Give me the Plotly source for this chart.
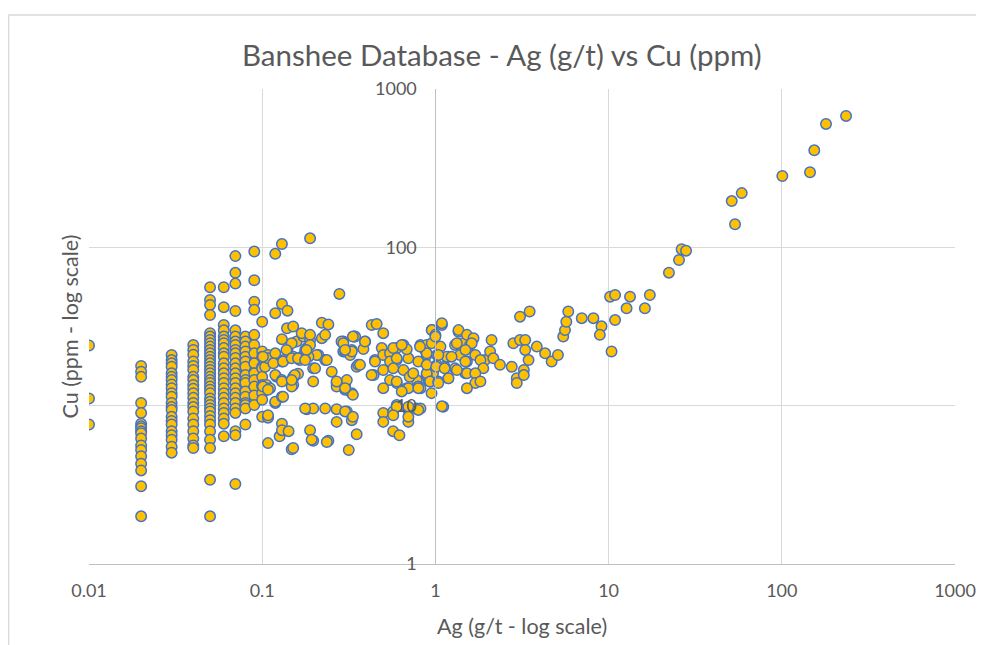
import plotly.graph_objects as go

# ---- Data (Ag g/t, Cu ppm) ----
# Discrete low-grade Ag assay levels and the Cu values at each level
ag_levels = [0.01, 0.02, 0.03, 0.04, 0.05, 0.06, 0.07, 0.08, 0.09, 0.1]
cu_at_001 = [24, 11.1, 7.6]
cu_at_002 = [17.8, 16.4, 15.2, 10.4, 9.0, 7.7, 7.4, 7.2, 6.9, 6.7, 6.2, 5.6, 5.25, 4.8, 4.3, 3.9, 3.1, 2.0]
cu_at_003 = [20.9, 19.4, 18.5, 17.6, 16.0, 15.2, 14.5, 13.6, 12.9, 12.0, 11.4, 10.4, 9.8, 9.4, 8.5, 8.0,
             7.6, 6.9, 6.5, 6.1, 5.5, 5.05]
cu_at_004 = [24.2, 22.5, 21.0, 19.0, 17.8, 16.8, 15.2, 14.5, 13.5, 12.8, 12.0, 11.2, 10.4, 9.8, 9.2, 8.3,
             7.6, 6.9, 6.2, 5.6, 5.4]
cu_at_005 = [56, 46.5, 43.3, 37.4, 28.7, 27.3, 26, 24.8, 23.6, 22.5, 21.4, 20.4, 19.4, 18.5, 17.6, 16.8,
             16.0, 15.2, 14.5, 13.9, 13.2, 12.6, 12.0, 11.1, 10.6, 10.1, 9.6, 9.2, 8.6, 8.1, 7.6, 6.9,
             6.1, 5.4, 3.4, 2.0]
cu_at_006 = [56, 41.9, 32.3, 29.9, 27.3, 26.0, 24.8, 23.1, 21.4, 20.4, 18.5, 17.2, 16.0, 14.9, 13.9, 12.9,
             12.0, 11.2, 10.4, 9.6, 9.0, 8.3, 7.7, 6.4]
cu_at_007 = [88, 69, 59, 39.6, 29.9, 27.3, 25.4, 24.2, 22.5, 21.4, 20.0, 18.5, 17.2, 16.0, 14.9, 13.9,
             12.9, 12.0, 11.2, 10.4, 9.6, 9.0, 6.9, 6.5, 3.2]
cu_at_008 = [27.3, 25.4, 23.6, 22.0, 20.4, 19.0, 17.6, 15.6, 14.5, 13.9, 12.3, 11.4, 10.4, 10.1, 9.6, 7.6]
cu_at_009 = [94, 62, 45.4, 40.3, 28, 24.2, 21.4, 18.5, 16, 14.5, 13.2, 11.6, 10.1]
cu_at_010 = [33.9, 22.0, 20.4, 17.6, 17.2, 15.2, 13.5, 13.2, 12.0, 10.9, 8.5]

# Scattered samples between 0.1 and 1 g/t Ag
ag_mid = [0.108, 0.104, 0.106, 0.108, 0.108, 0.119, 0.121, 0.119, 0.126,
          0.130, 0.189, 0.119, 0.279, 0.130, 0.119, 0.140,
          0.221, 0.241, 0.139, 0.151, 0.221, 0.130, 0.158, 0.173, 0.189,
          0.140, 0.151, 0.169, 0.181, 0.211, 0.231, 0.130, 0.108,
          0.119, 0.130, 0.111, 0.119, 0.130, 0.151, 0.161, 0.151,
          0.197, 0.197, 0.252, 0.269, 0.301, 0.329, 0.308,
          0.294, 0.339, 0.393, 0.329, 0.294, 0.384, 0.351,
          0.429, 0.458, 0.500,
          0.181, 0.197, 0.231, 0.269, 0.308,
          0.108, 0.130, 0.130, 0.142, 0.189, 0.197, 0.241, 0.269, 0.329, 0.351,
          0.148, 0.316,
          0.169, 0.189, 0.177, 0.189, 0.231, 0.206, 0.236, 0.287, 0.301, 0.344, 0.322,
          0.133, 0.165, 0.185, 0.202, 0.101, 0.108, 0.130, 0.151, 0.148, 0.269, 0.301, 0.334,
          0.177, 0.193, 0.236, 0.151,
          0.448, 0.490, 0.500, 0.547, 0.598, 0.654, 0.698, 0.598, 0.654, 0.500, 0.547, 0.598,
          0.683, 0.500, 0.780, 0.797, 0.891, 0.953, 0.44, 0.598, 0.500, 0.57, 0.698, 0.78,
          0.50, 0.698, 0.57, 0.62, 0.87, 0.82, 0.683, 0.547, 0.71, 0.797, 0.91, 0.97, 0.95,
          0.82, 0.82, 0.89, 0.89, 0.93]
cu_mid = [20.9, 17.6, 13.5, 8.5, 5.8, 20.4, 15.2, 10.4, 6.4,
          105, 114, 91, 50.8, 43.9, 38.4, 39.8,
          33.4, 32.6, 30.8, 31.6, 26.7, 26.3, 25.4, 27.3, 26.0,
          22.5, 20.4, 20.4, 23.1, 20.9, 19.4, 19.0, 19.9,
          15.6, 14.5, 12.9, 10.6, 11.4, 15.2, 15.9, 13.5,
          17.2, 14.2, 16.4, 13.9, 13.5, 12.0, 14.5,
          25.4, 27.3, 25.4, 22.5, 22.0, 22.8, 17.6,
          32.3, 32.8, 28.7,
          9.5, 9.6, 9.6, 9.5, 9.2,
          8.4, 7.7, 7.0, 6.9, 7.0, 6.0, 6.0, 7.9, 8.1, 6.6,
          5.3, 5.25,
          28.7, 28.0, 22.5, 24.2, 28.0, 20.9, 19.4, 25.4, 22.0, 27.3, 20.9,
          19.4, 19.4, 20.4, 17.2, 13.2, 12.6, 14.2, 14.9, 13.2, 13.2, 12.6, 11.7,
          9.6, 6.1, 5.9, 5.4,
          19.4, 23.1, 20.9, 21.4, 23.1, 24.2, 19.9, 19.4, 16.8, 16.8, 14.5, 13.9,
          12.9, 12.9, 14.5, 19.0, 20.9, 30.1, 15.6, 10.1, 9.0, 9.2, 9.4, 9.6,
          7.9, 7.9, 6.9, 6.5, 22.5, 24.2, 22.7, 19.0, 15.2, 13.2, 14.5, 16.0, 12.0,
          9.6, 12.9, 24.2, 15.6, 14.2]

# Further samples filling the dense 0.1 - 2 g/t cluster
ag_dense = [0.148, 0.180, 0.138, 0.119, 0.101, 0.116, 0.132, 0.148, 0.161, 0.177, 0.154, 0.148,
            0.132, 0.294, 0.334, 0.329, 0.301, 0.358, 0.269, 0.301, 0.301, 0.334, 0.108,
            0.392, 0.367, 0.571, 0.639, 0.598, 0.448, 0.571, 0.745, 0.891, 0.428, 0.598,
            0.698, 0.797, 0.639, 0.931, 1.04, 1.187, 1.732, 1.49, 1.298, 1.13, 1.02, 0.891,
            0.891, 1.02, 1.187, 1.387, 1.52, 1.934, 1.449, 1.584, 1.298, 0.953, 0.953, 1.09,
            1.36, 0.815, 0.598, 0.698, 0.797, 1.11, 0.571, 0.698]
cu_dense = [24.8, 22.5, 22.5, 21.4, 20.4, 18.5, 19.0, 19.9, 19.9, 19.4, 15.6, 14.5,
            11.4, 24.8, 27.3, 22.0, 22.5, 18.1, 14.2, 12.9, 9.2, 8.5, 8.7,
            25.4, 18.1, 23.1, 24.2, 19.9, 19.0, 17.2, 16.0, 16.0, 15.6, 14.2,
            12.9, 12.9, 12.3, 14.2, 14.2, 14.9, 14.2, 16.0, 17.2, 17.6, 18.1, 18.1,
            21.4, 20.9, 20.4, 20.9, 19.0, 19.4, 24.8, 24.2, 24.2, 24.8, 30.0, 32.3,
            29.3, 23.6, 9.86, 9.86, 9.4, 9.86, 8.7, 8.5]

# Samples from 1 to 20 g/t Ag
ag_upper = [1.0, 1.09, 1.07, 1.01, 1.13, 1.16, 1.09, 1.0, 1.04, 1.24, 1.33, 1.36, 1.52, 1.66, 1.62,
            1.49, 1.70, 1.82, 1.89, 1.49, 1.33, 1.04, 1.19, 1.52, 1.70, 1.70, 1.82, 1.52,
            2.11, 2.07, 2.16, 2.36, 2.76, 2.82, 3.08, 3.3, 3.3, 3.45, 3.24, 2.95, 2.95, 3.24,
            3.85, 4.30, 4.69, 5.1, 3.08, 3.5, 5.47, 5.6, 5.7, 5.85, 7.0, 8.17, 9.1, 8.9,
            10.2, 10.9, 10.9, 10.4, 12.7, 13.3, 16.2, 17.3]
cu_upper = [28.0, 33.2, 23.6, 17.6, 17.2, 20.4, 9.9, 27.3, 20.9, 20.4, 24.8, 30.0, 28.0, 26.7, 24.8,
            22.5, 20.9, 19.4, 17.2, 19.0, 16.8, 13.9, 14.9, 16.0, 16.0, 13.9, 14.2, 12.9,
            26.0, 22.0, 19.9, 18.1, 17.6, 24.8, 26.0, 26.0, 22.5, 19.4, 16.8, 14.9, 13.9, 15.6,
            23.6, 21.4, 19.0, 20.9, 36.5, 39.3, 27.3, 30.0, 33.9, 39.3, 35.7, 35.7, 31.7, 28.0,
            48.8, 50.0, 34.7, 22.0, 41.2, 48.8, 41.2, 50.0]

# High-grade samples
ag_high = [22.3, 25.5, 26.4, 28.0, 51.4, 58.7, 53.7, 100.7, 145.5, 154, 180, 235]
cu_high = [69.2, 83.2, 97.3, 95.3, 196, 220, 140, 282, 298, 410, 602, 676]

x_ticks = [0.01, 0.1, 1, 10, 100, 1000]
x_tick_text = ["0.01", "0.1", "1", "10", "100", "1000"]
y_ticks = [1, 10, 100, 1000]
y_tick_text = ["1", "10", "100", "1000"]

# ---- assemble ----
cu_cols = [cu_at_001, cu_at_002, cu_at_003, cu_at_004, cu_at_005,
           cu_at_006, cu_at_007, cu_at_008, cu_at_009, cu_at_010]
xs, ys = [], []
for lvl, vals in zip(ag_levels, cu_cols):
    xs += [lvl] * len(vals)
    ys += vals
xs += ag_mid + ag_dense + ag_upper + ag_high
ys += cu_mid + cu_dense + cu_upper + cu_high

FONT = "Lato, 'Open Sans', sans-serif"
GREY = "#595959"

fig = go.Figure()
fig.add_trace(go.Scatter(
    x=xs, y=ys, mode="markers",
    marker=dict(size=10.5, color="#FFC000", line=dict(color="#4472C4", width=1.5)),
    showlegend=False,
))

# The page adds an 8 px body margin, so the figure is sized to fit inside the window.
fig.update_layout(
    width=976, height=637,
    margin=dict(l=81, r=29, t=81, b=81),
    paper_bgcolor="white", plot_bgcolor="white",
    font=dict(family=FONT, color=GREY),
    xaxis=dict(
        type="log", range=[-2, 3], automargin=False,
        tickvals=x_ticks, ticktext=x_tick_text,
        ticks="outside", ticklen=10, tickcolor="rgba(0,0,0,0)",
        tickfont=dict(size=18, color=GREY),
        showgrid=True, gridcolor="#D9D9D9", gridwidth=1,
        showline=True, linecolor="#BFBFBF", linewidth=1,
        zeroline=False,
    ),
    yaxis=dict(
        type="log", range=[0, 3], automargin=False,
        anchor="free", position=0.4,
        tickvals=y_ticks, ticktext=y_tick_text,
        ticks="outside", ticklen=15, tickcolor="rgba(0,0,0,0)",
        tickfont=dict(size=18, color=GREY),
        showgrid=True, gridcolor="#D9D9D9", gridwidth=1,
        showline=True, linecolor="#BFBFBF", linewidth=1,
        zeroline=False,
    ),
    shapes=[
        dict(type="rect", xref="paper", yref="paper",
             x0=-0.0927, x1=1.3, y0=-0.5, y1=1.1558,
             line=dict(color="#D9D9D9", width=1.3), fillcolor="rgba(0,0,0,0)", layer="below"),
    ],
    annotations=[
        dict(text="Banshee Database - Ag (g/t) vs Cu (ppm)", xref="paper", yref="paper",
             x=0.4769, y=1.0716, xanchor="center", yanchor="middle", showarrow=False,
             font=dict(size=29.5, color=GREY, family=FONT)),
        dict(text="Ag (g/t - log scale)", xref="paper", yref="paper",
             x=0.5, y=-0.1305, xanchor="center", yanchor="middle", showarrow=False,
             font=dict(size=21.5, color=GREY, family=FONT)),
        dict(text="Cu (ppm - log scale)", xref="paper", yref="paper",
             x=-0.022, y=0.5, xanchor="center", yanchor="middle", showarrow=False,
             textangle=-90, font=dict(size=21.5, color=GREY, family=FONT)),
    ],
)

fig.write_html("out.html")
